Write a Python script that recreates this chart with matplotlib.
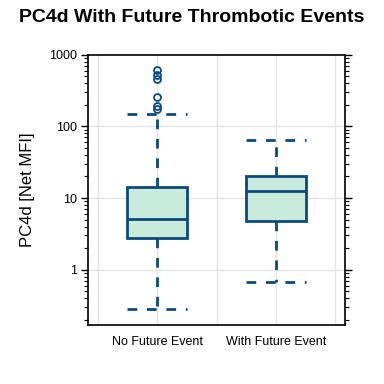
import matplotlib
matplotlib.use("Agg")
import matplotlib.pyplot as plt
from matplotlib.ticker import LogLocator, NullFormatter, FixedLocator, FixedFormatter

plt.rcParams['font.family'] = ['Liberation Sans', 'DejaVu Sans']

categories = ["No Future Event", "With Future Event"]
whisker_low = [0.286, 0.67]
q1 = [2.77, 4.82]
median = [5.1, 12.6]
q3 = [14.4, 20.3]
whisker_high = [150, 64.4]
outliers_no = [610, 519, 457, 256, 191, 174]
outliers_with = []
ytick_vals = [1, 10, 100, 1000]
ytick_labels = ["1", "10", "100", "1000"]

line_col = "#0B4A7D"
fill_col = "#C8EBDC"

fig = plt.figure(figsize=(3.84, 3.84), dpi=100)
ax = fig.add_axes([88/384, 1-325/384, (345-88)/384, (325-54.7)/384])

stats = []
for i, lab in enumerate(categories):
    stats.append(dict(label=lab, whislo=whisker_low[i], q1=q1[i], med=median[i],
                      q3=q3[i], whishi=whisker_high[i],
                      fliers=[outliers_no, outliers_with][i]))

ax.bxp(stats, positions=[1, 2], widths=0.5, patch_artist=True, showfliers=True,
       boxprops=dict(facecolor=fill_col, edgecolor=line_col, linewidth=2),
       medianprops=dict(color=line_col, linewidth=2),
       whiskerprops=dict(color=line_col, linewidth=2, linestyle=(0, (3.5, 3.5))),
       capprops=dict(color=line_col, linewidth=2, linestyle=(0, (3.5, 3.5))),
       capwidths=0.5,
       flierprops=dict(marker='o', markerfacecolor='none', markeredgecolor=line_col,
                       markersize=5, markeredgewidth=1.3, linestyle='none'))

ax.set_yscale('log')
ax.set_ylim(0.169, 1000)
ax.set_xlim(0.42, 2.58)

ax.yaxis.set_major_locator(FixedLocator(ytick_vals))
ax.yaxis.set_major_formatter(FixedFormatter(ytick_labels))
ax.yaxis.set_minor_locator(LogLocator(base=10, subs=range(2, 10)))
ax.yaxis.set_minor_formatter(NullFormatter())
ax.tick_params(axis='y', which='major', direction='out', length=5, width=1,
               left=True, right=True, labelsize=9, pad=3)
ax.tick_params(axis='y', which='minor', direction='out', length=3, width=0.8,
               left=True, right=True)
ax.tick_params(axis='x', length=0, labelsize=9, pad=8)

ax.set_xticks([1, 2])
ax.set_xticklabels(categories)

for v in [0.5, 1.0, 1.5, 2.0, 2.5]:
    ax.axvline(v, color='#E5E5E5', lw=1, zorder=0)
for v in ytick_vals[:-1]:
    ax.axhline(v, color='#E5E5E5', lw=1, zorder=0)

for s in ax.spines.values():
    s.set_color('black')
    s.set_linewidth(1.2)

ax.set_ylabel("PC4d [Net MFI]", fontsize=12, labelpad=10)
fig.text(0.5, 0.955, "PC4d With Future Thrombotic Events", ha='center', va='center',
         fontsize=14, fontweight='bold')

fig.savefig("out.png", dpi=100)
